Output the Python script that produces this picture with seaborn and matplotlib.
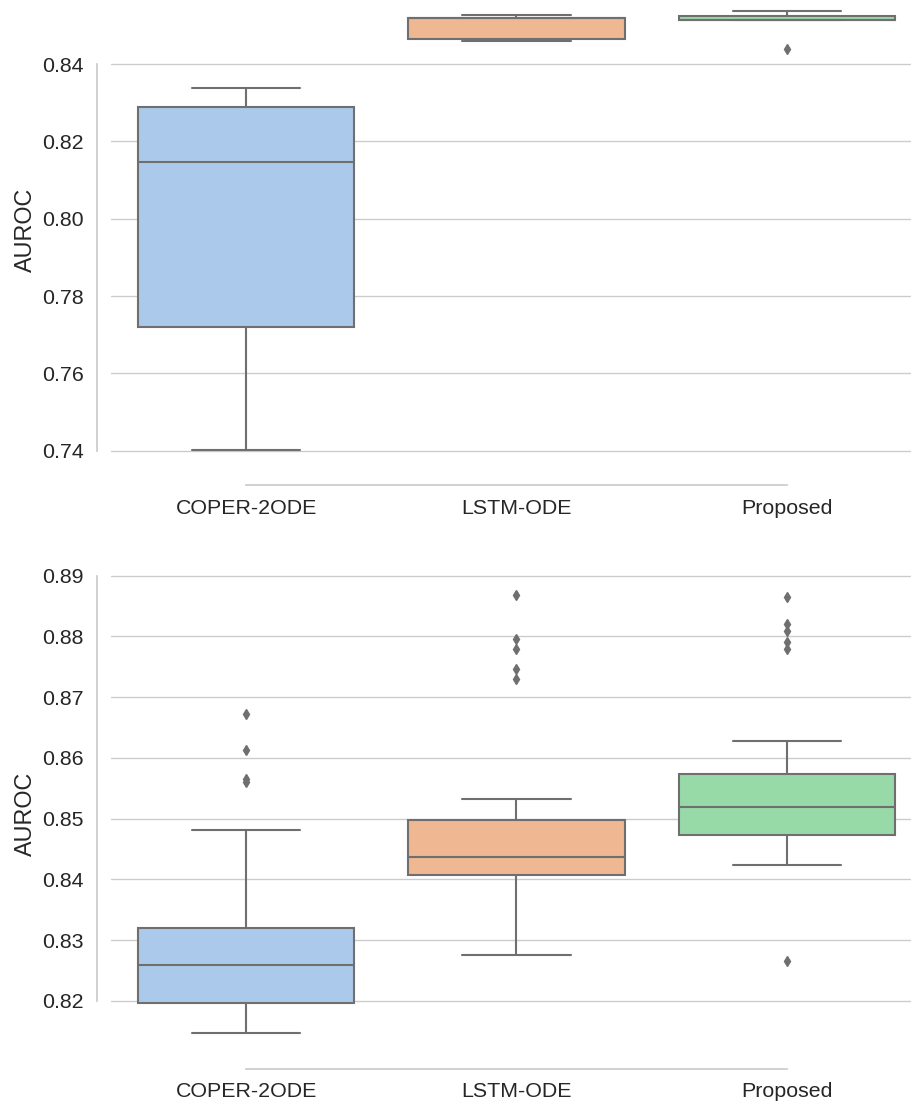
import matplotlib
matplotlib.use("Agg")
import matplotlib.pyplot as plt
import pandas as pd
import seaborn as sns

# Model names shown on the x axis
models = ["COPER-2ODE", "LSTM-ODE", "Proposed"]

# Upper panel: AUROC per run
top_coper = [0.7403, 0.7719, 0.8146, 0.8290, 0.8337]
top_lstm = [0.8459, 0.8465, 0.8518, 0.8519, 0.8527]
top_proposed = [0.8438, 0.8514, 0.8515, 0.8525, 0.8537]

# Lower panel: AUROC per run
bottom_coper = [0.8147, 0.8158, 0.8166, 0.8175, 0.8183, 0.8191, 0.8197,
                0.8206, 0.8214, 0.8229, 0.8241, 0.8252, 0.8260, 0.8268,
                0.8279, 0.8287, 0.8298, 0.8309, 0.8320, 0.8374, 0.8481,
                0.8560, 0.8565, 0.8613, 0.8672]
bottom_lstm = [0.8276, 0.8338, 0.8371, 0.8389, 0.8397, 0.8403, 0.8408,
               0.8414, 0.8418, 0.8423, 0.8428, 0.8433, 0.8437, 0.8446,
               0.8455, 0.8468, 0.8479, 0.8488, 0.8498, 0.8533, 0.8730,
               0.8747, 0.8779, 0.8796, 0.8868]
bottom_proposed = [0.8266, 0.8424, 0.8436, 0.8447, 0.8458, 0.8467, 0.8474,
                   0.8481, 0.8489, 0.8496, 0.8503, 0.8511, 0.8519, 0.8527,
                   0.8536, 0.8544, 0.8553, 0.8563, 0.8574, 0.8628, 0.8779,
                   0.8791, 0.8809, 0.8821, 0.8865]


def long_form(*groups):
    rows = []
    for name, vals in zip(models, groups):
        rows += [{"model": name, "AUROC": v} for v in vals]
    return pd.DataFrame(rows)


sns.set_theme(style="whitegrid", context="notebook", font_scale=1.4)
plt.rcParams["font.family"] = ["Liberation Sans", "DejaVu Sans"]

line_gray = (0.435, 0.435, 0.435)

W, H = 912, 1103
fig = plt.figure(figsize=(W / 100, H / 100), dpi=100)
ax_top = fig.add_axes([111 / W, (H - 471.5) / H, 811 / W, 482.4 / H])
ax_bot = fig.add_axes([111 / W, (H - 1055.1) / H, 811 / W, 481.9 / H])

panels = [
    (ax_top, long_form(top_coper, top_lstm, top_proposed)),
    (ax_bot, long_form(bottom_coper, bottom_lstm, bottom_proposed)),
]

for ax, df in panels:
    sns.boxplot(data=df, x="model", y="AUROC", hue="model", palette="pastel",
                order=models, hue_order=models, legend=False, linewidth=1.5,
                linecolor=line_gray, fliersize=5,
                flierprops={"marker": "d", "markerfacecolor": line_gray,
                            "markeredgecolor": line_gray},
                ax=ax)
    ax.set_xlabel("")
    ax.set_ylabel("AUROC")
    sns.despine(ax=ax, offset=10, trim=True)

fig.savefig("out.png", dpi=100)
